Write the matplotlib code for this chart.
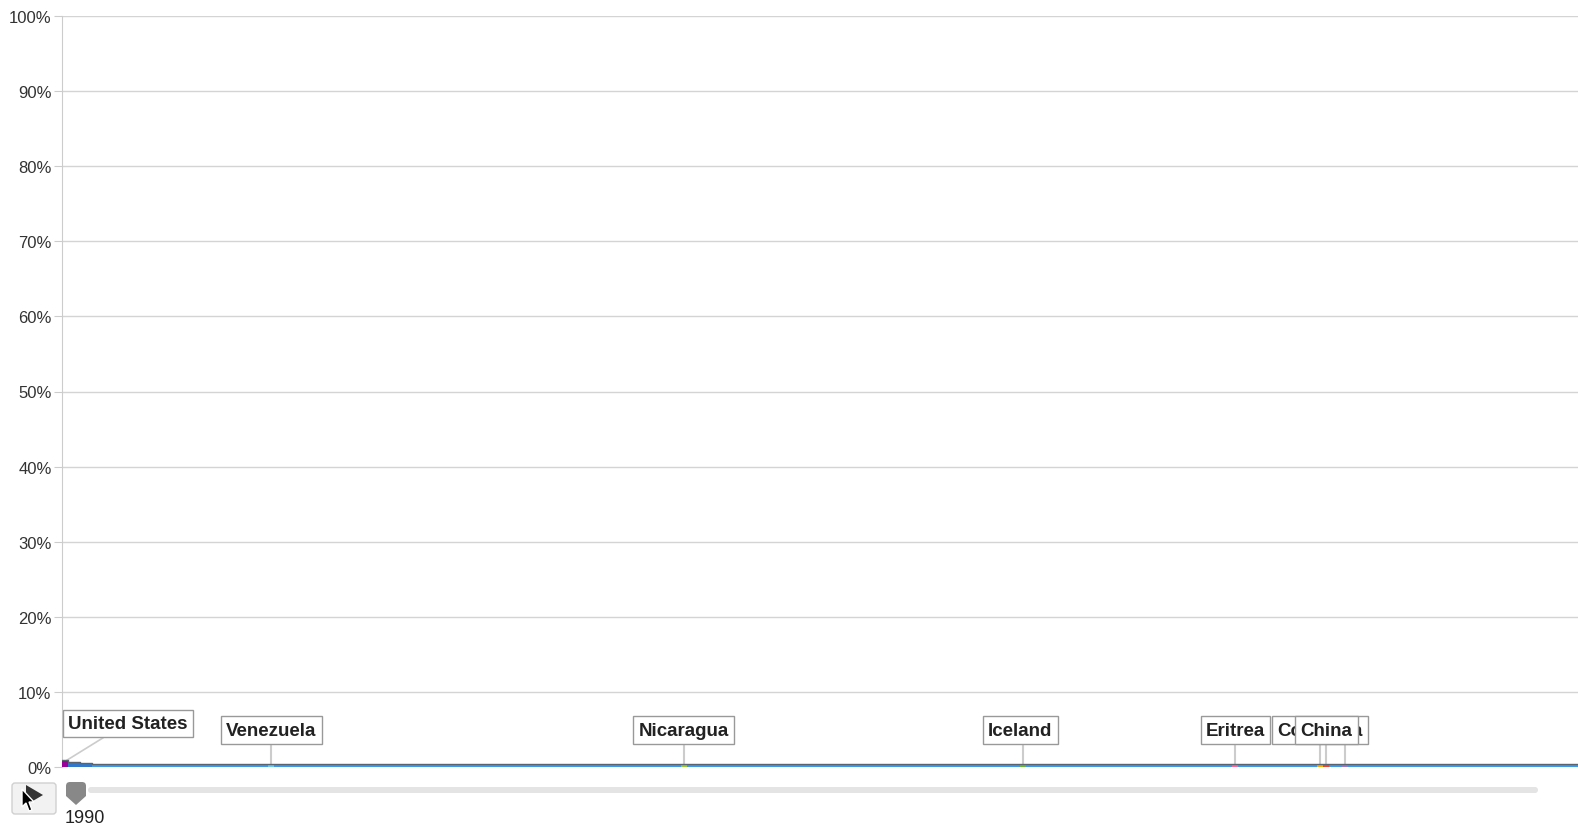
import numpy as np
import matplotlib.pyplot as plt
from matplotlib.patches import FancyBboxPatch, Polygon
from matplotlib.ticker import FuncFormatter

plt.rcParams['font.family'] = ['Liberation Sans', 'DejaVu Sans']

# share (%) per country, sorted as in the chart (250 bars)
share = [
    0.9, 0.6, 0.6, 0.55, 0.55, 0.4, 0.4, 0.4, 0.4, 0.4, 0.4, 0.4, 0.4, 0.4, 0.4, 0.4, 0.4, 0.4, 0.4, 0.4, 0.4, 0.4, 0.4, 0.4, 0.4,
    0.4, 0.4, 0.4, 0.4, 0.4, 0.4, 0.4, 0.4, 0.4, 0.4, 0.4, 0.4, 0.4, 0.4, 0.4, 0.4, 0.4, 0.4, 0.4, 0.4, 0.4, 0.4, 0.4, 0.4, 0.4,
    0.4, 0.4, 0.4, 0.4, 0.4, 0.4, 0.4, 0.4, 0.4, 0.4, 0.4, 0.4, 0.4, 0.4, 0.4, 0.4, 0.4, 0.4, 0.4, 0.4, 0.4, 0.4, 0.4, 0.4, 0.4,
    0.4, 0.4, 0.4, 0.4, 0.4, 0.4, 0.4, 0.4, 0.4, 0.4, 0.4, 0.4, 0.4, 0.4, 0.4, 0.4, 0.4, 0.4, 0.4, 0.4, 0.4, 0.4, 0.4, 0.4, 0.4,
    0.4, 0.4, 0.4, 0.4, 0.4, 0.4, 0.4, 0.4, 0.4, 0.4, 0.4, 0.4, 0.4, 0.4, 0.4, 0.4, 0.4, 0.4, 0.4, 0.4, 0.4, 0.4, 0.4, 0.4, 0.4,
    0.4, 0.4, 0.4, 0.4, 0.4, 0.4, 0.4, 0.4, 0.4, 0.4, 0.4, 0.4, 0.4, 0.4, 0.4, 0.4, 0.4, 0.4, 0.4, 0.4, 0.4, 0.4, 0.4, 0.4, 0.4,
    0.4, 0.4, 0.4, 0.4, 0.4, 0.4, 0.4, 0.4, 0.4, 0.4, 0.4, 0.4, 0.4, 0.4, 0.4, 0.4, 0.4, 0.4, 0.4, 0.4, 0.4, 0.4, 0.4, 0.4, 0.4,
    0.4, 0.4, 0.4, 0.4, 0.4, 0.4, 0.4, 0.4, 0.4, 0.4, 0.4, 0.4, 0.4, 0.4, 0.4, 0.4, 0.4, 0.4, 0.4, 0.4, 0.4, 0.4, 0.4, 0.4, 0.4,
    0.4, 0.4, 0.4, 0.4, 0.4, 0.4, 0.4, 0.4, 0.4, 0.4, 0.4, 0.4, 0.4, 0.4, 0.4, 0.4, 0.4, 0.4, 0.4, 0.4, 0.4, 0.4, 0.4, 0.4, 0.4,
    0.4, 0.4, 0.4, 0.4, 0.4, 0.4, 0.4, 0.4, 0.4, 0.4, 0.4, 0.4, 0.4, 0.4, 0.4, 0.4, 0.4, 0.4, 0.4, 0.4, 0.4, 0.4, 0.4, 0.4, 0.4,
]

# highlighted countries: bar index, label, colour
label_idx = [0, 34, 102, 158, 193, 207, 211, 208]
label_names = ["United States", "Venezuela", "Nicaragua", "Iceland", "Eritrea", "Colombia", "", "China"]
label_colors = ["#990099", "#66ccee", "#99cc33", "#66bb33", "#ff6699", "#ffaa00", "#9977cc", "#ee4433"]
label_y = [5.8, 4.9, 4.9, 4.9, 4.9, 4.9, 4.9, 4.9]
label_x = [10.9, 34.5, 102.5, 158.0, 193.5, 207.5, 211.5, 208.5]

year = "1990"

n = len(share)
colors = ["#3d9be9"] * n
for i in range(1, 5):
    colors[i] = "#2f78cc"
for i, c in zip(label_idx, label_colors):
    colors[i] = c

fig = plt.figure(figsize=(15.78, 8.28), dpi=100)
ax = fig.add_axes([62 / 1578, 60 / 828, 1516 / 1578, 751 / 828])

x = np.arange(n)
ax.bar(x, share, width=1.0, align="edge", color=colors, linewidth=0, zorder=3)
ax.step(np.arange(n + 1), share + [share[-1]], where="post", color="#5a6470", lw=1.0, zorder=4)

ax.set_xlim(0, n)
ax.set_ylim(0, 100)
ax.set_yticks(range(0, 101, 10))
ax.yaxis.set_major_formatter(FuncFormatter(lambda v, p: f"{int(v)}%"))
ax.set_xticks([])
ax.tick_params(axis="y", length=6, color="#cccccc", pad=1.5, labelsize=12, labelcolor="#333333")
ax.grid(axis="y", color="#d4d4d4", lw=1)
ax.set_axisbelow(True)
for s in ["top", "right", "bottom"]:
    ax.spines[s].set_visible(False)
ax.spines["left"].set_color("#cccccc")

# labels with leader lines
for k, (i, name) in enumerate(zip(label_idx, label_names)):
    top = share[i]
    if k == 0:
        ax.plot([6.8, 0.8], [3.9, top], color="#cccccc", lw=1.2, zorder=2)
    else:
        ax.plot([i + 0.5, i + 0.5], [3.0, top], color="#cccccc", lw=1.5, zorder=2)
    if name:
        ax.text(label_x[k], label_y[k], name, ha="center", va="center", fontsize=13.5,
                fontweight="bold", color="#222222", zorder=5 + k,
                bbox=dict(boxstyle="square,pad=0.28", fc="white", ec="#999999", lw=1))

# slider / play controls in pixel coordinates
ui = fig.add_axes([0, 0, 1, 1], zorder=-1)
ui.set_xlim(0, 1578)
ui.set_ylim(828, 0)
ui.axis("off")
ui.add_patch(FancyBboxPatch((88, 788), 1450, 6, boxstyle="round,pad=0,rounding_size=3",
                            fc="#e4e4e4", ec="none"))
ui.add_patch(FancyBboxPatch((12, 784), 44, 31, boxstyle="round,pad=0,rounding_size=3",
                            fc="#f2f2f2", ec="#d0d0d0", lw=1))
ui.add_patch(Polygon([[26, 786], [26, 806], [43, 796]], closed=True, fc="#333333", ec="none"))
ui.add_patch(FancyBboxPatch((66, 783), 20, 14, boxstyle="round,pad=0,rounding_size=4",
                            fc="#888888", ec="none"))
ui.add_patch(Polygon([[66, 792], [86, 792], [86, 797], [76, 806], [66, 797]],
                     closed=True, fc="#888888", ec="none"))
ui.add_patch(Polygon([[22, 790], [22, 808], [26, 804], [29, 812], [32, 811], [29, 803], [34, 803]],
                     closed=True, fc="black", ec="white", lw=1, zorder=5))
ui.text(65, 823, year, fontsize=13, color="#222222", va="baseline")

fig.savefig("out.png", dpi=100)
